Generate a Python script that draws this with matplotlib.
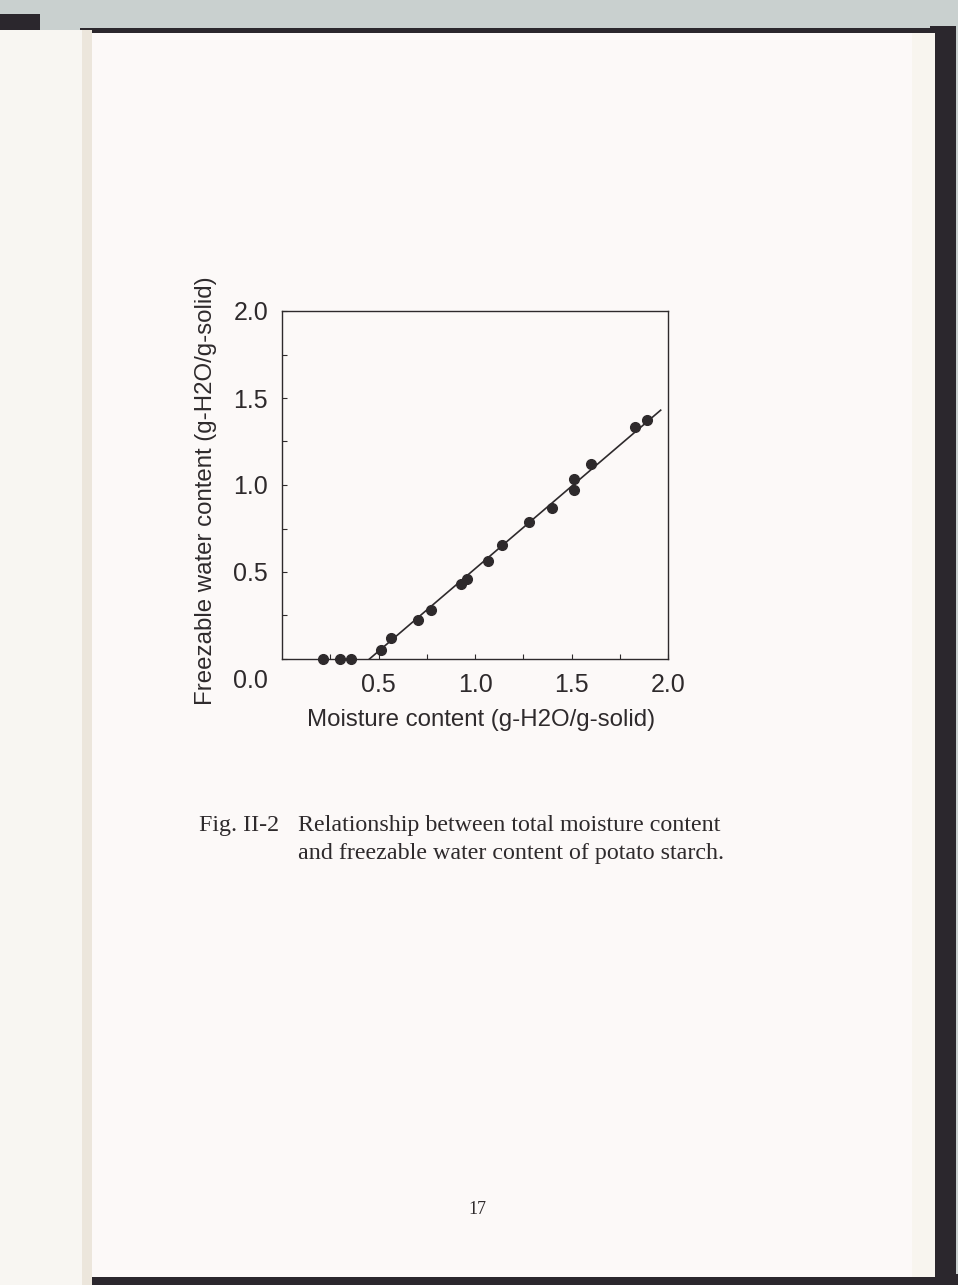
import numpy as np
import matplotlib
matplotlib.use("Agg")
import matplotlib.pyplot as plt
from matplotlib.patches import Rectangle
from matplotlib.transforms import ScaledTranslation

# data
moisture = [0.212, 0.303, 0.355, 0.514, 0.564, 0.703, 0.772, 0.926, 0.960,
            1.069, 1.140, 1.279, 1.397, 1.514, 1.514, 1.603, 1.828, 1.891]
freezable = [0.0, 0.0, 0.0, 0.052, 0.122, 0.224, 0.281, 0.433, 0.459,
             0.563, 0.653, 0.789, 0.865, 1.032, 0.970, 1.120, 1.334, 1.376]
fit_x = [0.453, 1.962]
fit_y = [0.0, 1.430]
x_ticks = [0.5, 1.0, 1.5, 2.0]
y_ticks = [0.0, 0.5, 1.0, 1.5, 2.0]
minor_ticks = [0.25, 0.75, 1.25, 1.75]

W, H = 958, 1285
fig = plt.figure(figsize=(W / 100, H / 100), dpi=100)
fig.patch.set_facecolor("#c9d0cf")

def px_rect(x0, y0, x1, y1, color, z=0):
    # rectangle in image pixel coords (y from top)
    fig.patches.append(Rectangle((x0 / W, 1 - y1 / H), (x1 - x0) / W, (y1 - y0) / H,
                                 transform=fig.transFigure, color=color, zorder=z,
                                 linewidth=0))

# book binding / page decor
px_rect(0, 14, 40, 32, "#2b272d")
px_rect(80, 28, 935, 36, "#2b272d")
px_rect(930, 26, 956, 1285, "#2b272d")
px_rect(40, 1274, 958, 1285, "#2b272d")
px_rect(0, 30, 82, 1285, "#f8f6f2", 1)
px_rect(82, 30, 92, 1285, "#ece6dc", 1)
px_rect(92, 33, 935, 1277, "#fcf9f8", 1)
px_rect(912, 33, 935, 1277, "#f8f5ef", 1)

ink = "#2e2a2c"
plt.rcParams["font.family"] = ["Liberation Sans", "DejaVu Sans"]

ax = fig.add_axes([282 / W, 1 - 659 / H, 386 / W, 348 / H])
ax.set_facecolor("#fcf9f8")
ax.set_zorder(2)
ax.plot(fit_x, fit_y, color=ink, linewidth=1.2, zorder=3)
ax.plot(moisture, freezable, "o", color=ink, markersize=7, zorder=4, clip_on=False)
ax.set_xlim(0, 2.0)
ax.set_ylim(0, 2.0)
ax.set_xticks(x_ticks)
ax.set_yticks(y_ticks)
ax.set_xticks(minor_ticks, minor=True)
ax.set_yticks(minor_ticks, minor=True)
ax.set_xticklabels(["%.1f" % v for v in x_ticks])
ax.set_yticklabels(["%.1f" % v for v in y_ticks])
ax.tick_params(which="both", direction="in", length=3.5, width=0.8, color=ink,
               labelcolor=ink, labelsize=18)
ax.tick_params(axis="x", pad=10)
ax.tick_params(axis="y", pad=10)
for s in ax.spines.values():
    s.set_color(ink)
    s.set_linewidth(1.0)

# "0.0" sits lower, level with the x tick labels
lab0 = ax.get_yticklabels()[0]
lab0.set_transform(lab0.get_transform() + ScaledTranslation(0, -0.2, fig.dpi_scale_trans))

ax.set_xlabel("Moisture content (g-H2O/g-solid)", fontsize=17.3, color=ink)
ax.xaxis.set_label_coords(0.515, -0.145)
ax.set_ylabel("Freezable water content (g-H2O/g-solid)", fontsize=17.3, color=ink)
ax.yaxis.set_label_coords(-0.168, 0.485)

serif = ["Liberation Serif", "DejaVu Serif"]
fs = 17.3
fig.text(199 / W, 1 - 826 / H, "Fig. II-2", family=serif, fontsize=fs, color=ink,
         va="center", ha="left", zorder=5)
fig.text(298 / W, 1 - 826 / H, "Relationship between total moisture content",
         family=serif, fontsize=fs, color=ink, va="center", ha="left", zorder=5)
fig.text(298 / W, 1 - 853 / H, "and freezable water content of potato starch.",
         family=serif, fontsize=fs, color=ink, va="center", ha="left", zorder=5)
fig.text(477 / W, 1 - 1210 / H, "17", family=serif, fontsize=13, color=ink,
         va="center", ha="center", zorder=5)

fig.savefig("out.png", dpi=100, facecolor=fig.get_facecolor())
